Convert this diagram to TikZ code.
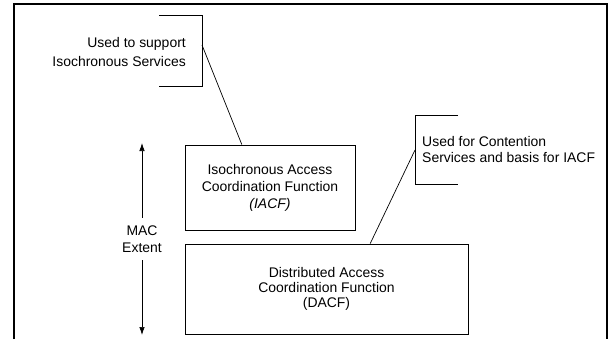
\documentclass[tikz,border=0pt]{standalone}
\usepackage{fontspec}
\setmainfont{Liberation Sans}
\usetikzlibrary{arrows.meta, positioning, calc}

\begin{document}
\begin{tikzpicture}[x=1bp, y=-1bp,
    func/.style={draw, rectangle, line width=0.9bp, align=center, inner sep=0pt},
    note/.style={inner sep=0pt},
    lead/.style={line width=0.7bp}
]
\useasboundingbox (0,0) rectangle (610,339);
\fontsize{14}{17}\selectfont

% Outer frame (open at the bottom)
\draw[line width=1.3bp] (14,339) -- (14,4) -- (607,4) -- (607,339);

% Function boxes
\node[func, minimum width=170bp, minimum height=85bp] (iacf) at (270,187.5)
    {Isochronous Access\\Coordination Function\\\textit{(IACF)}};
\node[func, minimum width=283bp, minimum height=90bp, font=\fontsize{14}{15}\selectfont] (dacf) at (326.5,289)
    {Distributed Access\\Coordination Function\\(DACF)};

% Note for IACF
\node[note, anchor=east, align=right, font=\fontsize{14}{19}\selectfont] (isonote) at (186,52)
    {Used to support\\Isochronous Services};
\draw[lead] (159,15) -| (202,86) -- (159,86);
\coordinate (isotip) at (202,45);
\draw[lead] (isotip) -- ($(iacf.north west)!0.335!(iacf.north east)$);

% Note for DACF
\node[note, anchor=west, align=left] (contnote) at (422,149.5)
    {Used for Contention\\Services and basis for IACF};
\draw[lead] (458,115) -| (415,184) -- (458,184);
\coordinate (conttip) at (415,150);
\draw[lead] (conttip) -- ($(dacf.north west)!0.654!(dacf.north east)$);

% MAC extent
\coordinate (mactop) at (142,143);
\coordinate (macbot) at (142,335);
\draw[lead, {Latex[length=8bp, width=5.5bp]}-{Latex[length=8bp, width=5.5bp]}] (mactop) --
    node[fill=white, align=center, inner xsep=2bp, inner ysep=8bp] (mac) {MAC\\Extent} (macbot);

\end{tikzpicture}
\end{document}
